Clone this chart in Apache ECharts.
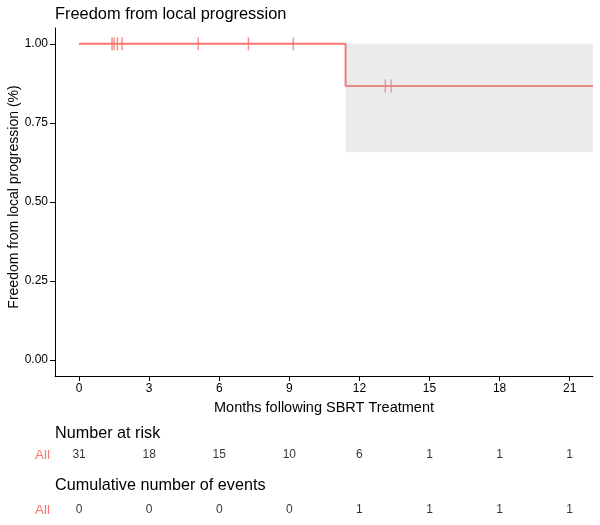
<!DOCTYPE html>
<html>
<head>
<meta charset="utf-8">
<script src="https://cdn.jsdelivr.net/npm/echarts@6/dist/echarts.min.js"></script>
<style>html,body{margin:0;padding:0;background:#fff;}#c{width:600px;height:525px;}</style>
</head>
<body>
<div id="c"></div>
<script>
// ---- data ----
const timeTicks = [0, 3, 6, 9, 12, 15, 18, 21];
const survTicks = [0, 0.25, 0.5, 0.75, 1.0];
const stepTimes = [0, 11.41, 22.0];
const stepSurv = [1.0, 0.867, 0.867];
const ciTimes = [11.41, 22.0];
const ciLower = [0.657, 0.657];
const ciUpper = [1.0, 1.0];
const censorTimes = [1.41, 1.50, 1.64, 1.84, 5.10, 7.25, 9.17, 13.11, 13.36];
const nRisk = [31, 18, 15, 10, 6, 1, 1, 1];
const cumEvents = [0, 0, 0, 0, 1, 1, 1, 1];

const RED = '#F8766D';
const FONT = 'Liberation Sans, Arial, sans-serif';

function survAt(t) {
  let s = stepSurv[0];
  for (let i = 0; i < stepTimes.length; i++) if (stepTimes[i] <= t) s = stepSurv[i];
  return s;
}

const chart = echarts.init(document.getElementById('c'));
const xMin = -1.03, xMax = 22.0;
const hiddenX = (gi) => ({gridIndex: gi, type: 'value', min: xMin, max: xMax, show: false});
const hiddenY = (gi) => ({gridIndex: gi, type: 'value', min: -1, max: 1, show: false});

chart.setOption({
  backgroundColor: '#fff',
  animation: false,
  textStyle: {fontFamily: FONT},
  grid: [
    {left: 55, right: 7, top: 28, bottom: 149, containLabel: false, outerBoundsMode: 'none'},
    {left: 55, right: 7, top: 445, height: 20, containLabel: false, outerBoundsMode: 'none'},
    {left: 55, right: 7, top: 500, height: 20, containLabel: false, outerBoundsMode: 'none'}
  ],
  xAxis: [
    {
      gridIndex: 0, type: 'value', min: xMin, max: xMax,
      axisLine: {show: true, onZero: false, lineStyle: {color: '#000', width: 1}},
      axisTick: {show: true, customValues: timeTicks, length: 5, lineStyle: {color: '#000'}},
      axisLabel: {customValues: timeTicks, color: '#000', fontSize: 12, margin: 7, fontFamily: FONT},
      splitLine: {show: false},
      name: 'Months following SBRT Treatment', nameLocation: 'middle', nameGap: 24,
      nameTextStyle: {color: '#000', fontSize: 14.5, fontFamily: FONT}
    },
    hiddenX(1), hiddenX(2)
  ],
  yAxis: [
    {
      gridIndex: 0, type: 'value', min: -0.05, max: 1.05,
      axisLine: {show: true, onZero: false, lineStyle: {color: '#000', width: 1}},
      axisTick: {show: true, customValues: survTicks, length: 5, lineStyle: {color: '#000'}},
      axisLabel: {customValues: survTicks, color: '#000', fontSize: 12, margin: 7, fontFamily: FONT,
        formatter: v => v.toFixed(2)},
      splitLine: {show: false}
    },
    hiddenY(1), hiddenY(2)
  ],
  series: [
    {
      type: 'line', xAxisIndex: 0, yAxisIndex: 0, step: 'end', z: 2,
      data: stepTimes.map((t, i) => [t, stepSurv[i]]),
      symbol: 'none', lineStyle: {color: RED, width: 2}
    },
    {
      type: 'scatter', xAxisIndex: 0, yAxisIndex: 0, z: 2,
      data: censorTimes.map(t => [t, survAt(t)]),
      symbol: 'rect', symbolSize: [1.5, 13], itemStyle: {color: RED}
    },
    {
      type: 'custom', xAxisIndex: 0, yAxisIndex: 0, z: 3,
      data: [[ciTimes[0], ciTimes[1], ciLower[0], ciUpper[0]]],
      renderItem: (params, api) => {
        const p1 = api.coord([api.value(0), api.value(3)]);
        const p2 = api.coord([api.value(1), api.value(2)]);
        return {type: 'rect', shape: {x: p1[0], y: p1[1], width: p2[0] - p1[0], height: p2[1] - p1[1]},
          style: {fill: 'rgba(188,188,188,0.3)'}};
      }
    },
    {
      type: 'scatter', xAxisIndex: 1, yAxisIndex: 1,
      data: timeTicks.map((t, i) => [t, 0, nRisk[i]]),
      symbolSize: 1, itemStyle: {color: 'rgba(0,0,0,0)'},
      label: {show: true, position: 'inside', formatter: p => String(p.value[2]), color: '#000', fontSize: 12, fontFamily: FONT}
    },
    {
      type: 'scatter', xAxisIndex: 2, yAxisIndex: 2,
      data: timeTicks.map((t, i) => [t, 0, cumEvents[i]]),
      symbolSize: 1, itemStyle: {color: 'rgba(0,0,0,0)'},
      label: {show: true, position: 'inside', formatter: p => String(p.value[2]), color: '#000', fontSize: 12, fontFamily: FONT}
    }
  ],
  graphic: [
    {type: 'text', x: 14, y: 197, rotation: Math.PI / 2,
      style: {text: 'Freedom from local progression (%)', fill: '#000', font: '14px ' + FONT, textAlign: 'center', textVerticalAlign: 'middle'}},
    {type: 'text', x: 55, y: 14, style: {text: 'Freedom from local progression', fill: '#000', font: '16.4px ' + FONT, textVerticalAlign: 'middle'}},
    {type: 'text', x: 55, y: 434, style: {text: 'Number at risk', fill: '#000', font: '16.2px ' + FONT, textVerticalAlign: 'middle'}},
    {type: 'text', x: 55, y: 486, style: {text: 'Cumulative number of events', fill: '#000', font: '16.2px ' + FONT, textVerticalAlign: 'middle'}},
    {type: 'text', x: 50, y: 455, style: {text: 'All', fill: RED, font: '13.5px ' + FONT, textAlign: 'right', textVerticalAlign: 'middle'}},
    {type: 'text', x: 50, y: 510, style: {text: 'All', fill: RED, font: '13.5px ' + FONT, textAlign: 'right', textVerticalAlign: 'middle'}}
  ]
});
</script>
</body>
</html>
